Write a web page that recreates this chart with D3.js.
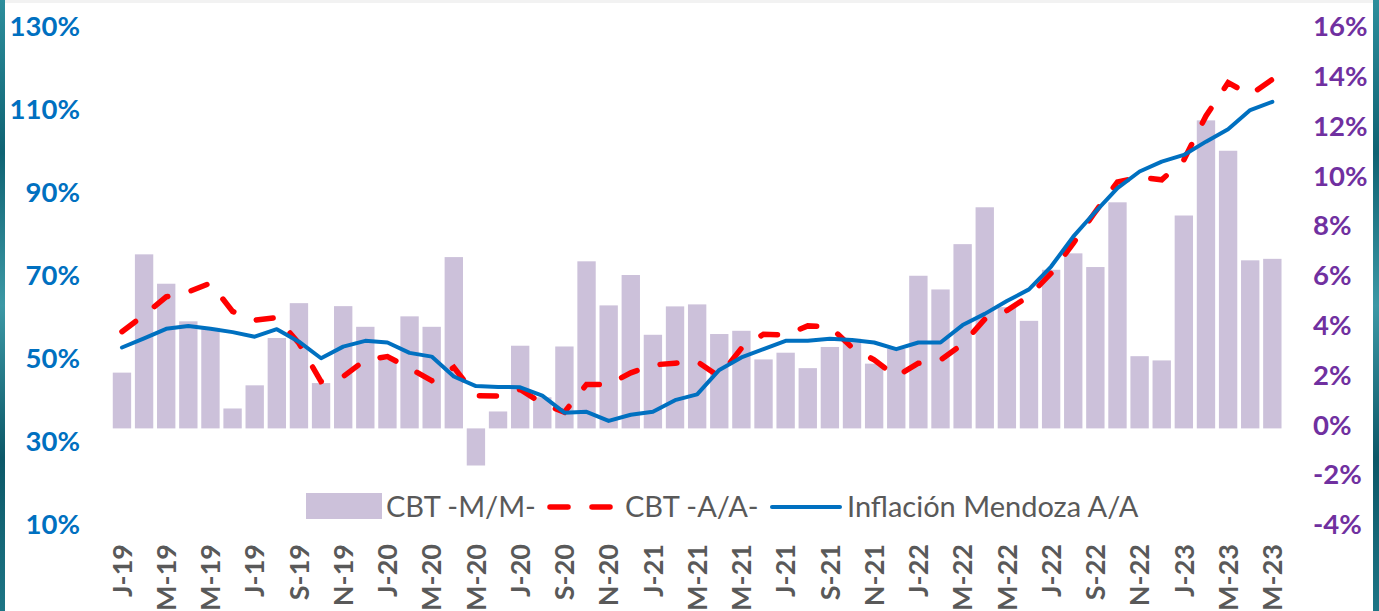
<!DOCTYPE html>
<html>
<head>
<meta charset="utf-8">
<script src="https://cdn.jsdelivr.net/npm/d3@7"></script>
<style>
    body { margin: 0; background: #fff; }
    svg { display: block; }
</style>
</head>
<body>
<svg id="chart"></svg>
<script>
// Month codes, Jan 2019 .. May 2023
const monthLetters = ["J", "F", "M", "A", "M", "J", "J", "A", "S", "O", "N", "D"];
const categories = [];
for (let y = 19; y <= 23; y++) {
    monthLetters.forEach((m, i) => {
        if (y === 23 && i > 4) return;
        categories.push(`${m}-${y}`);
    });
}

// CBT -M/M- (right axis, %)
const cbtMM = [
    2.24, 6.99, 5.81, 4.30, 4.04, 0.80, 1.73, 3.63, 5.03, 1.82, 4.91, 4.08,
    2.76, 4.50, 4.08, 6.88, -1.49, 0.68, 3.32, 1.25, 3.29, 6.71, 4.94, 6.16,
    3.76, 4.90, 4.98, 3.79, 3.92, 2.77, 3.04, 2.42, 3.27, 3.60, 2.60, 3.20,
    6.13, 5.58, 7.40, 8.88, 4.87, 4.32, 6.37, 7.03, 6.48, 9.08, 2.90, 2.73,
    8.55, 12.37, 11.15, 6.75, 6.81,
];

// CBT -A/A- (left axis, %)
const cbtAA = [
    57.3, 61.3, 65.7, 66.9, 69.0, 62.2, 60.1, 60.7, 54.5, 45.3, 46.5, 50.5,
    51.3, 48.5, 45.5, 48.7, 41.9, 41.8, 43.4, 40.0, 37.9, 44.6, 44.6, 47.4,
    49.3, 49.7, 50.1, 46.5, 53.3, 56.7, 56.5, 58.7, 58.5, 53.5, 50.5, 46.5,
    49.7, 50.5, 54.3, 60.3, 62.4, 65.9, 71.4, 78.6, 86.2, 93.4, 94.5, 93.9,
    98.7, 109.3, 117.3, 114.4, 118.1,
];

// Inflación Mendoza A/A (left axis, %)
const inflMza = [
    53.5, 55.7, 58.0, 58.7, 58.0, 57.2, 56.1, 57.9, 54.9, 50.9, 53.7, 55.1,
    54.7, 52.2, 51.3, 46.5, 44.2, 44.0, 43.9, 41.9, 37.8, 38.0, 35.8, 37.3,
    38.0, 40.8, 42.2, 48.1, 51.1, 53.1, 55.1, 55.1, 55.6, 55.3, 54.7, 53.1,
    54.7, 54.7, 58.9, 61.6, 64.7, 67.5, 73.0, 80.2, 86.2, 91.9, 95.9, 98.3,
    99.9, 103.1, 106.1, 110.7, 112.7,
];

const leftTicks = [10, 30, 50, 70, 90, 110, 130];
const rightTicks = [-4, -2, 0, 2, 4, 6, 8, 10, 12, 14, 16];

const seriesNames = ["CBT -M/M-", "CBT -A/A-", "Inflación Mendoza A/A"];

const width = 1379;
const height = 611;

const svg = d3.select("#chart").attr("width", width).attr("height", height);

// frame: grey strip on top, teal edges left and right
const defs = svg.append("defs");
const grad = defs
    .append("linearGradient")
    .attr("id", "teal")
    .attr("x1", 0).attr("y1", 0).attr("x2", 0).attr("y2", 1);
[["0%", "#2d8e9c"], ["25%", "#0f6373"], ["50%", "#3c98a5"], ["75%", "#0c5868"], ["100%", "#1d7585"]]
    .forEach(([o, c]) => grad.append("stop").attr("offset", o).attr("stop-color", c));

svg.append("rect").attr("x", 0).attr("y", 0).attr("width", width).attr("height", 3).attr("fill", "#f2f2f2");
svg.append("rect").attr("x", 0).attr("y", 0).attr("width", 5).attr("height", height).attr("fill", "url(#teal)");
svg.append("rect").attr("x", 1373).attr("y", 0).attr("width", 6).attr("height", height).attr("fill", "url(#teal)");

// scales
const x = d3
    .scaleBand()
    .domain(d3.range(categories.length))
    .range([110.9, 1283.4])
    .paddingInner(0.17)
    .paddingOuter(0.085);

const yLeft = d3.scaleLinear().domain([10, 130]).range([528, 30]);
const yRight = d3.scaleLinear().domain([-4, 16]).range([528, 30]);

const cx = (i) => x(i) + x.bandwidth() / 2;

// bars (right axis)
svg.append("g")
    .selectAll("rect")
    .data(cbtMM)
    .enter()
    .append("rect")
    .attr("x", (d, i) => x(i))
    .attr("width", x.bandwidth())
    .attr("y", (d) => yRight(Math.max(0, d)))
    .attr("height", (d) => Math.abs(yRight(d) - yRight(0)))
    .attr("fill", "#ccc1da");

// lines (left axis)
const line = d3
    .line()
    .x((d, i) => cx(i))
    .y((d) => yLeft(d));

svg.append("path")
    .datum(cbtAA)
    .attr("d", line)
    .attr("fill", "none")
    .attr("stroke", "#ff0000")
    .attr("stroke-width", 5.5)
    .attr("stroke-linecap", "round")
    .attr("stroke-dasharray", "17,24");

svg.append("path")
    .datum(inflMza)
    .attr("d", line)
    .attr("fill", "none")
    .attr("stroke", "#0070c0")
    .attr("stroke-width", 4)
    .attr("stroke-linejoin", "round")
    .attr("stroke-linecap", "round");

// axes
const font = "Lato, 'Open Sans', sans-serif";

const leftAxis = svg
    .append("g")
    .attr("transform", "translate(80,0)")
    .call(d3.axisLeft(yLeft).tickValues(leftTicks).tickFormat((d) => d + "%").tickSize(0).tickPadding(0));
leftAxis.select(".domain").remove();
leftAxis.selectAll("text")
    .attr("dy", "5.7px")
    .style("font-family", font)
    .style("font-weight", "bold")
    .style("font-size", "27.5px")
    .attr("fill", "#0070c0");

const rightAxis = svg
    .append("g")
    .attr("transform", "translate(1313,0)")
    .call(d3.axisRight(yRight).tickValues(rightTicks).tickFormat((d) => d + "%").tickSize(0).tickPadding(0));
rightAxis.select(".domain").remove();
rightAxis.selectAll("text")
    .attr("dy", "5.7px")
    .style("font-family", font)
    .style("font-weight", "bold")
    .style("font-size", "27.5px")
    .attr("fill", "#7030a0");

const xAxis = svg
    .append("g")
    .attr("transform", "translate(0,544)")
    .call(
        d3.axisBottom(x)
            .tickValues(d3.range(0, categories.length, 2))
            .tickFormat((i) => categories[i])
            .tickSize(0)
    );
xAxis.select(".domain").remove();
xAxis.selectAll("text")
    .attr("transform", "rotate(-90)")
    .attr("x", 0)
    .attr("y", 0)
    .attr("dy", "0.36em")
    .attr("text-anchor", "end")
    .style("font-family", font)
    .style("font-weight", "bold")
    .style("font-size", "27px")
    .attr("fill", "#595959");

// legend
const legend = svg.append("g").style("font-family", font).style("font-size", "29px");

legend.append("rect")
    .attr("x", 306).attr("y", 493).attr("width", 76).attr("height", 26)
    .attr("fill", "#ccc1da");
legend.append("text").attr("x", 386).attr("y", 517).attr("fill", "#595959").text(seriesNames[0]);

legend.append("line")
    .attr("x1", 550).attr("x2", 610).attr("y1", 507).attr("y2", 507)
    .attr("stroke", "#ff0000").attr("stroke-width", 5.5)
    .attr("stroke-linecap", "round").attr("stroke-dasharray", "18,24");
legend.append("text").attr("x", 625).attr("y", 517).attr("fill", "#595959").text(seriesNames[1]);

legend.append("line")
    .attr("x1", 772).attr("x2", 840).attr("y1", 507).attr("y2", 507)
    .attr("stroke", "#0070c0").attr("stroke-width", 4).attr("stroke-linecap", "round");
legend.append("text").attr("x", 847).attr("y", 517).attr("fill", "#595959").text(seriesNames[2]);
</script>
</body>
</html>
